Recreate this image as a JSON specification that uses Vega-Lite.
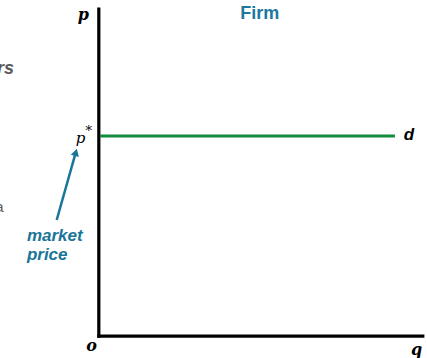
{
  "$schema": "https://vega.github.io/schema/vega-lite/v6.json",
  "width": 427,
  "height": 358,
  "autosize": {"type": "none"},
  "padding": 0,
  "background": "white",
  "config": {"view": {"stroke": null}},
  "layer": [
    {
      "data": {"values": [
        {"name": "p-axis", "q": 0, "q2": 0, "p": 0, "p2": 100},
        {"name": "q-axis", "q": 0, "q2": 100, "p": 0, "p2": 0}
      ]},
      "mark": {"type": "rule", "strokeWidth": 3.2, "color": "#000000", "strokeCap": "square"},
      "encoding": {
        "x": {"field": "q", "type": "quantitative", "scale": {"domain": [-30.5, 101.3], "nice": false, "zero": false}, "axis": null},
        "x2": {"field": "q2"},
        "y": {"field": "p", "type": "quantitative", "scale": {"domain": [-6.7, 102.8], "nice": false, "zero": false}, "axis": null},
        "y2": {"field": "p2"}
      }
    },
    {
      "data": {"values": [
        {"name": "d", "q": 0.4, "q2": 91.4, "p": 61.2, "p2": 61.2}
      ]},
      "mark": {"type": "rule", "strokeWidth": 3, "color": "#138a3c"},
      "encoding": {
        "x": {"field": "q", "type": "quantitative"},
        "x2": {"field": "q2"},
        "y": {"field": "p", "type": "quantitative"},
        "y2": {"field": "p2"}
      }
    },
    {
      "data": {"values": [
        {"name": "arrow", "q": -13.0, "q2": -7.3, "p": 35.5, "p2": 55.5}
      ]},
      "mark": {"type": "rule", "strokeWidth": 2.5, "color": "#1a7599"},
      "encoding": {
        "x": {"field": "q", "type": "quantitative"},
        "x2": {"field": "q2"},
        "y": {"field": "p", "type": "quantitative"},
        "y2": {"field": "p2"}
      }
    },
    {
      "data": {"values": [
        {"name": "arrowhead", "q": -7.1, "p": 56.2}
      ]},
      "mark": {"type": "point", "shape": "triangle-up", "filled": true, "size": 70, "angle": 15.5, "color": "#1a7599", "opacity": 1},
      "encoding": {
        "x": {"field": "q", "type": "quantitative"},
        "y": {"field": "p", "type": "quantitative"}
      }
    },
    {
      "data": {"values": [
        {"label": "p", "q": -4.8, "p": 98.3},
        {"label": "o", "q": -2.2, "p": -3.1},
        {"label": "q", "q": 98.1, "p": -4.4}
      ]},
      "mark": {"type": "text", "font": "DejaVu Serif", "fontSize": 16, "fontWeight": "bold", "fontStyle": "italic", "color": "#000000", "align": "center", "baseline": "middle"},
      "encoding": {
        "x": {"field": "q", "type": "quantitative"},
        "y": {"field": "p", "type": "quantitative"},
        "text": {"field": "label"}
      }
    },
    {
      "data": {"values": [
        {"label": "p", "q": -5.6, "p": 60.5},
        {"label": "*", "q": -3.1, "p": 62.6}
      ]},
      "mark": {"type": "text", "font": "DejaVu Serif", "fontStyle": "italic", "color": "#000000", "align": "center", "baseline": "middle"},
      "encoding": {
        "x": {"field": "q", "type": "quantitative"},
        "y": {"field": "p", "type": "quantitative"},
        "text": {"field": "label"},
        "size": {"condition": {"test": "datum.label === '*'", "value": 13}, "value": 15}
      }
    },
    {
      "data": {"values": [
        {"label": "d", "q": 95.7, "p": 61.4}
      ]},
      "mark": {"type": "text", "font": "Liberation Sans", "fontSize": 17, "fontWeight": "bold", "fontStyle": "italic", "color": "#000000", "align": "center", "baseline": "middle"},
      "encoding": {
        "x": {"field": "q", "type": "quantitative"},
        "y": {"field": "p", "type": "quantitative"},
        "text": {"field": "label"}
      }
    },
    {
      "data": {"values": [
        {"label": "Firm", "q": 49.7, "p": 98.5}
      ]},
      "mark": {"type": "text", "font": "Liberation Sans", "fontSize": 18, "fontWeight": "bold", "color": "#1d78a0", "align": "center", "baseline": "middle"},
      "encoding": {
        "x": {"field": "q", "type": "quantitative"},
        "y": {"field": "p", "type": "quantitative"},
        "text": {"field": "label"}
      }
    },
    {
      "data": {"values": [
        {"label": "market", "q": -22.2, "p": 29.05},
        {"label": "price", "q": -22.2, "p": 23.2}
      ]},
      "mark": {"type": "text", "font": "Liberation Sans", "fontSize": 17, "fontWeight": "bold", "fontStyle": "italic", "color": "#1a7599", "align": "left", "baseline": "alphabetic"},
      "encoding": {
        "x": {"field": "q", "type": "quantitative"},
        "y": {"field": "p", "type": "quantitative"},
        "text": {"field": "label"}
      }
    },
    {
      "data": {"values": [
        {"label": "rs", "q": -26.2, "p": 80.1}
      ]},
      "mark": {"type": "text", "font": "Liberation Sans", "fontSize": 18, "fontWeight": "bold", "fontStyle": "italic", "color": "#5a5a5a", "align": "right", "baseline": "alphabetic"},
      "encoding": {
        "x": {"field": "q", "type": "quantitative"},
        "y": {"field": "p", "type": "quantitative"},
        "text": {"field": "label"}
      }
    },
    {
      "data": {"values": [
        {"label": "a", "q": -29.4, "p": 39.4}
      ]},
      "mark": {"type": "text", "font": "Liberation Sans", "fontSize": 15, "color": "#5a5a5a", "align": "right", "baseline": "middle"},
      "encoding": {
        "x": {"field": "q", "type": "quantitative"},
        "y": {"field": "p", "type": "quantitative"},
        "text": {"field": "label"}
      }
    }
  ]
}
